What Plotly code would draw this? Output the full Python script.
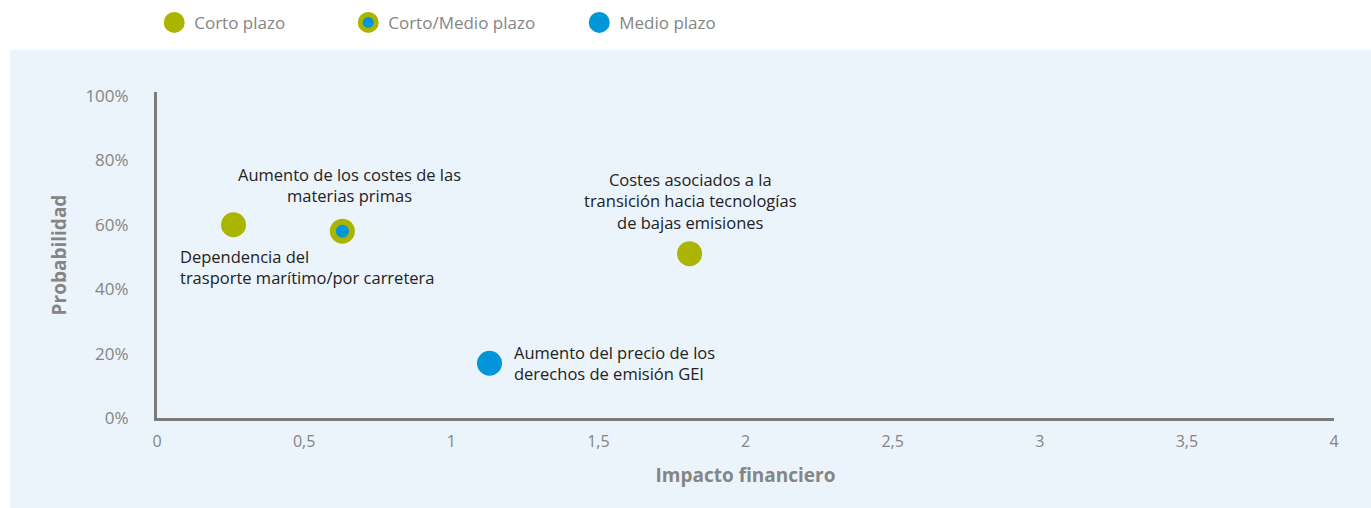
'''
    Matriz de riesgos de transición: probabilidad frente a impacto financiero.
'''
import plotly.graph_objects as go

# datos
riesgos = [
    'Dependencia del<br>trasporte marítimo/por carretera',
    'Aumento de los costes de las<br>materias primas',
    'Costes asociados a la<br>transición hacia tecnologías<br>de bajas emisiones',
    'Aumento del precio de los<br>derechos de emisión GEI',
]
impacto = [0.26, 0.63, 1.81, 1.13]
probabilidad = [60, 58, 51, 17]
plazo = ['Corto plazo', 'Corto/Medio plazo', 'Corto plazo', 'Medio plazo']

plazos = ['Corto plazo', 'Corto/Medio plazo', 'Medio plazo']
x_ticks = [0, 0.5, 1, 1.5, 2, 2.5, 3, 3.5, 4]
y_ticks = [0, 20, 40, 60, 80, 100]

VERDE = '#abb400'
AZUL = '#0096d9'
GRIS = '#858585'
FONDO = '#ebf3fb'
FUENTE = 'Open Sans'

# estilo de cada plazo: relleno, borde
estilo = {
    'Corto plazo': dict(color=VERDE, size=20, line=dict(color=VERDE, width=5)),
    'Corto/Medio plazo': dict(color=AZUL, size=19, line=dict(color=VERDE, width=6)),
    'Medio plazo': dict(color=AZUL, size=20, line=dict(color=AZUL, width=5)),
}
# cada leyenda va por separado (posicion en fraccion del papel)
leyendas = {'Corto plazo': ('legend', 0.1125), 'Corto/Medio plazo': ('legend2', 0.254),
            'Medio plazo': ('legend3', 0.4225)}

# posicion de las etiquetas respecto al punto
etiquetas = [
    dict(xanchor='left', yanchor='top', xshift=-56, yshift=-18, align='left'),
    dict(xanchor='center', yanchor='bottom', xshift=7, yshift=22, align='center'),
    dict(xanchor='center', yanchor='bottom', xshift=1, yshift=18, align='center'),
    dict(xanchor='left', yanchor='middle', xshift=22, yshift=0, align='left'),
]

fig = go.Figure()
for p in plazos:
    idx = [i for i, v in enumerate(plazo) if v == p]
    fig.add_trace(go.Scatter(
        x=[impacto[i] for i in idx], y=[probabilidad[i] for i in idx],
        mode='markers', name=p, marker=estilo[p], legend=leyendas[p][0],
        text=[riesgos[i].replace('<br>', ' ') for i in idx],
        hovertemplate='%{text}<br>Impacto: %{x}<br>Probabilidad: %{y}%<extra></extra>'))

for i, r in enumerate(riesgos):
    fig.add_annotation(x=impacto[i], y=probabilidad[i], text=r, showarrow=False,
                       font=dict(family=FUENTE, size=16.5, color='#222222'), **etiquetas[i])

ley = dict(orientation='h', yanchor='middle', y=0.955, xanchor='left', bgcolor='rgba(0,0,0,0)',
           font=dict(family=FUENTE, size=17, color=GRIS))
fig.update_layout(
    width=1371, height=508, margin=dict(l=0, r=0, t=0, b=0),
    paper_bgcolor='white', plot_bgcolor='rgba(0,0,0,0)', template='none',
    showlegend=True,
    legend=dict(ley, x=leyendas['Corto plazo'][1]),
    legend2=dict(ley, x=leyendas['Corto/Medio plazo'][1]),
    legend3=dict(ley, x=leyendas['Medio plazo'][1]),
    font=dict(family=FUENTE, color=GRIS),
    shapes=[dict(type='rect', xref='paper', yref='paper', x0=10 / 1371, x1=1, y0=0, y1=(508 - 50) / 508,
                 fillcolor=FONDO, line=dict(width=0), layer='below')],
)
fig.update_xaxes(
    domain=[157 / 1371, 1334 / 1371], range=[0, 4], tickvals=x_ticks,
    ticktext=[str(v).replace('.', ',') if v % 1 else str(int(v)) for v in x_ticks],
    ticklabelstandoff=7,
    showline=True, linecolor='#7b7b7b', linewidth=3, showgrid=False, zeroline=False, ticks='',
    tickfont=dict(family=FUENTE, size=16, color=GRIS), automargin=False,
    title=dict(text='<b>Impacto financiero</b>', font=dict(family=FUENTE, size=19, color=GRIS), standoff=18),
)
fig.update_yaxes(
    domain=[(508 - 418) / 508, (508 - 92) / 508], range=[0, 101.2], tickvals=y_ticks,
    ticktext=[f'{v}%' for v in y_ticks], ticklabelstandoff=22,
    showline=True, linecolor='#7b7b7b', linewidth=3, showgrid=False, zeroline=False, ticks='',
    tickfont=dict(family=FUENTE, size=17, color=GRIS), automargin=False,
    title=dict(text='<b>Probabilidad</b>', font=dict(family=FUENTE, size=19, color=GRIS), standoff=14),
)

# la pagina por defecto deja 8px de margen en el body
fig.write_html('out.html', config={'displayModeBar': False},
               post_script="document.body.style.margin='0';")
